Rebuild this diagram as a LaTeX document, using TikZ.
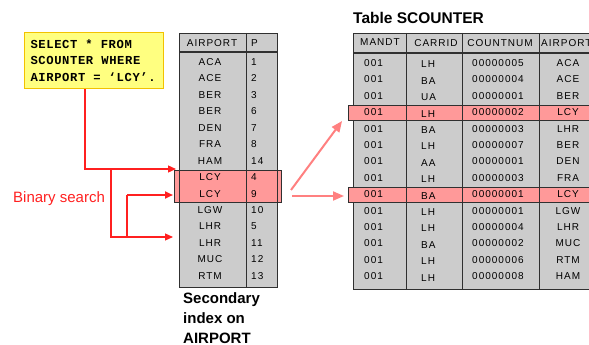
\documentclass[tikz,border=0pt]{standalone}
\usepackage{fontspec}
\setmainfont{Liberation Sans}
\newfontfamily\querymono{Liberation Mono}[LetterSpace=5]
\newfontfamily\cellfont{Liberation Sans}[LetterSpace=10]
\usetikzlibrary{arrows.meta,calc}
\newcommand\querygap{\hspace{8pt}}

\definecolor{cellgray}{HTML}{CCCCCC}
\definecolor{hlpink}{HTML}{FF9999}
\definecolor{qyellow}{HTML}{FFFF80}
\definecolor{qborder}{HTML}{F2C200}
\definecolor{searchred}{HTML}{FF2020}
\definecolor{hitpink}{HTML}{FF8080}
\definecolor{gridline}{HTML}{303030}

\tikzset{
  querybox/.style={draw=qborder, line width=1pt, fill=qyellow, anchor=north west,
    minimum width=139pt, minimum height=56pt, text width=131pt, inner xsep=4pt,
    align=left, font=\querymono\bfseries\fontsize{12.2}{16.5}\selectfont},
  cell/.style={inner sep=0pt, font=\cellfont\fontsize{10}{12}\selectfont},
  hlbox/.style={draw=gridline, line width=0.9pt, fill=hlpink, inner sep=0pt, anchor=north west},
  grid/.style={draw=gridline, line width=0.9pt},
  searchline/.style={draw=searchred, line width=1.1pt},
  searchtip/.style={-{Triangle[length=8pt,width=7pt]}},
  hitarrow/.style={draw=hitpink, line width=2pt, -{Triangle[length=11pt,width=9pt]}},
  caption/.style={inner sep=0pt, font=\bfseries\fontsize{15}{20}\selectfont}
}

\begin{document}
\begin{tikzpicture}[x=1pt,y=-1pt]
\useasboundingbox (0,0) rectangle (589,345);
\clip (0,0) rectangle (589,345);

% query box
\node[querybox] (query) at (24,32) {\hspace*{2pt}SELECT\querygap*\querygap FROM\\\hspace*{2pt}SCOUNTER\querygap WHERE\\\hspace*{2pt}AIRPORT\querygap=\querygap‘LCY’.};

% secondary index table
\fill[cellgray] (179,33) rectangle (277,287);
\node[hlbox, minimum width=107pt, minimum height=32pt] (idxhl) at (174,170) {};
\draw[grid] (179,33) rectangle (277,287);
\draw[grid] (246,33) -- (246,287);
\draw[draw=gridline, line width=1.7pt] (179,52) -- (277,52);
\node[cell] (ihA) at (212,43) {AIRPORT};
\node[cell, anchor=west] (ihP) at (251,43) {P};
\foreach \a/\p [count=\i] in {ACA/1,ACE/2,BER/3,BER/6,DEN/7,FRA/8,HAM/14,LCY/4,LCY/9,LGW/10,LHR/5,LHR/11,MUC/12,RTM/13}{
  \node[cell] (ia\i) at (210,{62+16.45*(\i-1)}) {\a};
  \node[cell, anchor=west] (ip\i) at (251,{62+16.45*(\i-1)}) {\p};
}
\node[caption, anchor=base west, align=left] (idxcap) at (183,343) {Secondary\\index on\\AIRPORT};

% table SCOUNTER
\node[caption, anchor=base west, font=\bfseries\fontsize{15.5}{20}\selectfont] (ttl) at (353,24) {Table SCOUNTER};
\fill[cellgray] (353,33) rectangle (620,289);
\draw[grid] (353,33) rectangle (620,289);
\node[hlbox, minimum width=272pt, minimum height=15pt] (rowA) at (348,105) {};
\node[hlbox, minimum width=272pt, minimum height=15pt] (rowB) at (348,187) {};
\foreach \x in {406,462,539} \draw[grid] (\x,33) -- (\x,289);
\draw[draw=gridline, line width=1.7pt] (353,53) -- (620,53);
\node[cell] (thM) at (380,42) {MANDT};
\node[cell] (thC) at (436,43) {CARRID};
\node[cell] (thN) at (500,43) {COUNTNUM};
\node[cell, anchor=west] (thA) at (541,43) {AIRPORT};
\foreach \c/\n/\ap [count=\i] in {LH/00000005/ACA,BA/00000004/ACE,UA/00000001/BER,LH/00000002/LCY,BA/00000003/LHR,LH/00000007/BER,AA/00000001/DEN,LH/00000003/FRA,BA/00000001/LCY,LH/00000001/LGW,LH/00000004/LHR,BA/00000002/MUC,LH/00000006/RTM,LH/00000008/HAM}{
  \node[cell, anchor=west] (tm\i) at (364,{63+16.4*(\i-1)}) {001};
  \node[cell, anchor=west] (tc\i) at (421,{64.5+16.4*(\i-1)}) {\c};
  \node[cell, anchor=west] (tn\i) at (472,{63+16.4*(\i-1)}) {\n};
  \node[cell] (ta\i) at (568,{63+16.4*(\i-1)}) {\ap};
}

% binary search path
\coordinate (bend) at (85,169);
\coordinate (hitTop) at (176,169);
\coordinate (forkA) at (111,169);
\coordinate (hitLow) at (173,237);
\coordinate (forkB) at (127,237);
\coordinate (hitMid) at (173,195);
\draw[searchline, line width=1.3pt, searchtip] (query.south -| bend) -- (bend) -- (hitTop);
\draw[searchline, searchtip] (forkA) |- (hitLow);
\draw[searchline] (forkB) -- (forkB |- hitMid);
\draw[searchline, line width=2pt, searchtip] (forkB |- hitMid) -- (hitMid);
\node[text=searchred, inner sep=0pt, font=\fontsize{15}{18}\selectfont, anchor=base west] (bs) at (13,202) {Binary search};

% hits in the table
\coordinate (hitA) at (291,190);
\coordinate (hitB) at (292,196);
\draw[hitarrow, shorten >=10pt] (hitA) -- (rowA.west);
\draw[hitarrow, shorten >=4pt] (hitB) -- (hitB -| rowB.west);
\end{tikzpicture}
\end{document}
